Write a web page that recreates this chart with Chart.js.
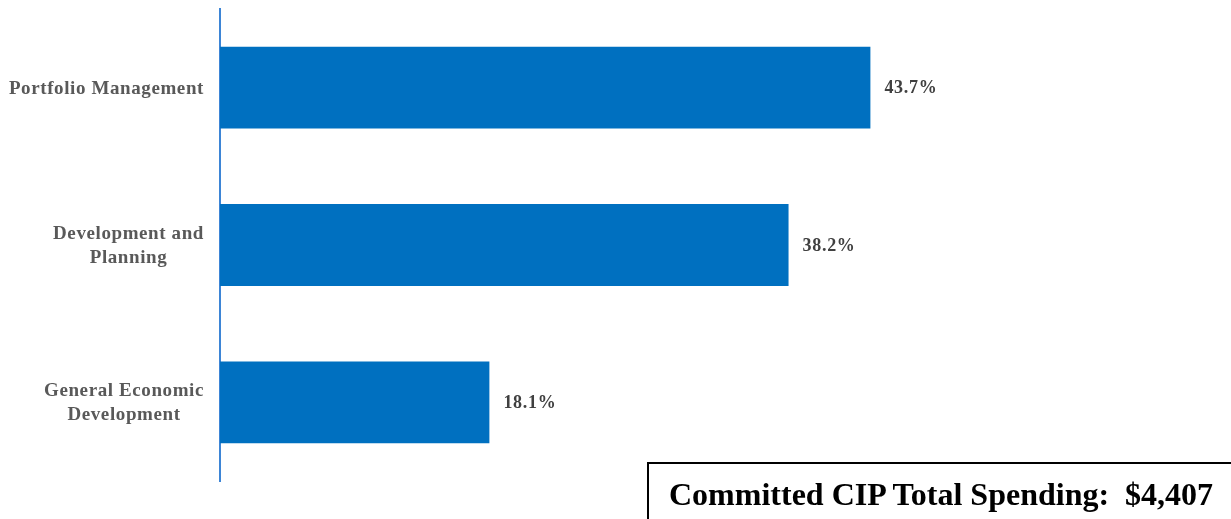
<!DOCTYPE html>
<html>
<head>
<meta charset="utf-8">
<script src="https://cdn.jsdelivr.net/npm/chart.js@4"></script>
<style>
  html, body { margin: 0; padding: 0; background: #fff; }
  #wrap { position: relative; width: 1231px; height: 519px; overflow: hidden; }
  #total {
    position: absolute; left: 647px; top: 462px; width: 600px; height: 70px;
    border: 2px solid #000; box-sizing: border-box;
    font: bold 32px "Liberation Serif", "Times New Roman", serif; color: #000;
    padding: 12px 0 0 20px; white-space: pre;
  }
</style>
</head>
<body>
<div id="wrap">
  <canvas id="chart1" width="1231" height="519"></canvas>
  <div id="total">Committed CIP Total Spending:  $4,407</div>
</div>
<script>
var categories = [
  ['Portfolio Management'],
  ['Development and', 'Planning'],
  ['General Economic', 'Development']
];
var shares = [43.7, 38.2, 18.1];
var xMax = 60;

var labelFont = 'bold 19px "Liberation Serif", "Times New Roman", serif';

// category labels and value labels drawn through the scales
var labelPlugin = {
  id: 'labels',
  afterDatasetsDraw: function(chart) {
    var ctx = chart.ctx;
    var yScale = chart.scales.y;
    var meta = chart.getDatasetMeta(0);
    ctx.save();
    ctx.textBaseline = 'middle';
    categories.forEach(function(lines, i) {
      var yc = yScale.getPixelForValue(i) + 1;
      ctx.font = labelFont;
      ctx.letterSpacing = '0.6px';
      var blockW = Math.max.apply(null, lines.map(function(l) { return ctx.measureText(l).width; }));
      var right = chart.chartArea.left - 16;
      var cx = right - blockW / 2;
      var lh = 24;
      ctx.fillStyle = '#595959';
      ctx.textAlign = 'center';
      lines.forEach(function(l, j) {
        ctx.fillText(l, cx, yc + (j - (lines.length - 1) / 2) * lh);
      });
      var bar = meta.data[i];
      ctx.font = 'bold 18px "Liberation Serif", "Times New Roman", serif';
      ctx.letterSpacing = '0.7px';
      ctx.fillStyle = '#404040';
      ctx.textAlign = 'left';
      ctx.fillText(shares[i].toFixed(1) + '%', bar.x + 14, yc);
    });
    ctx.restore();
  }
};

document.addEventListener('DOMContentLoaded', function() {
  new Chart('chart1', {
    type: 'bar',
    data: {
      labels: categories,
      datasets: [{
        data: shares,
        backgroundColor: '#0070C0',
        categoryPercentage: 1,
        barPercentage: 0.52
      }]
    },
    options: {
      indexAxis: 'y',
      responsive: false,
      animation: false,
      layout: { padding: { top: 9, bottom: 38, right: 1231 - 220 - Math.round(xMax * 14.89), left: 0 } },
      plugins: { legend: { display: false }, tooltip: { enabled: false } },
      scales: {
        x: {
          min: 0, max: xMax,
          display: false
        },
        y: {
          grid: { display: false },
          border: { display: true, color: '#3D85D6', width: 2 },
          ticks: { display: false },
          afterFit: function(scale) { scale.width = 220; }
        }
      }
    },
    plugins: [labelPlugin]
  });
});
</script>
</body>
</html>
